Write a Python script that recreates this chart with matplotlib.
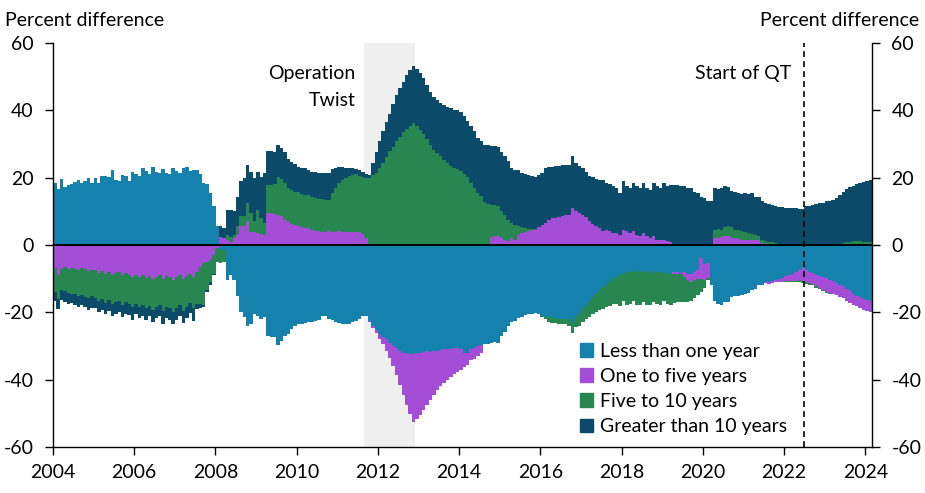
import numpy as np
import matplotlib
matplotlib.use("Agg")
import matplotlib.pyplot as plt
from matplotlib.patches import Patch

plt.rcParams['font.family'] = ['Lato', 'DejaVu Sans']
plt.rcParams['axes.unicode_minus'] = False

start_year = 2004  # first month: January 2004, monthly bars

lt1 = [
    18.4, 16.6, 19.5, 17.2, 17.8, 18.2, 18.8, 19.2, 18.3, 19.0, 19.8, 18.4,
    19.8, 18.5, 20.6, 20.5, 20.2, 22.3, 19.4, 19.0, 20.8, 20.4, 19.0, 21.8,
    21.0, 20.6, 22.9, 22.0, 21.2, 23.2, 21.7, 21.3, 22.6, 21.5, 21.2, 22.8,
    22.0, 21.5, 23.0, 23.2, 22.0, 22.4, 22.3, 21.0, 18.4, 18.0, 15.4, 11.5,
    5.5, -1.4, -1.5, -10.3, -9.0, -10.5, -15.0, -20.0, -21.5, -24.0, -23.5, -20.5,
    -21.0, -22.0, -21.5, -27.0, -27.2, -27.3, -29.8, -28.5, -27.0, -26.5, -25.0, -24.0,
    -23.6, -23.5, -23.2, -23.0, -22.8, -22.5, -22.2, -21.1, -21.2, -22.0, -22.3, -22.8,
    -23.2, -23.6, -23.6, -23.4, -23.0, -22.6, -22.0, -21.2, -21.2, -22.5, -24.0, -25.3,
    -26.3, -27.2, -28.0, -29.0, -30.0, -30.5, -31.4, -32.0, -32.0, -32.3, -32.5, -32.0,
    -32.0, -31.8, -31.5, -31.8, -31.4, -31.5, -31.3, -31.0, -31.0, -30.8, -30.6, -30.6,
    -31.0, -32.0, -32.0, -31.0, -30.6, -30.0, -29.8, -29.5, -29.3, -29.0, -28.8, -29.0,
    -27.0, -25.8, -24.2, -22.8, -22.6, -21.8, -21.3, -20.8, -20.6, -20.4, -20.3, -20.5,
    -21.0, -21.3, -21.5, -21.5, -21.6, -22.0, -22.0, -22.0, -22.0, -23.0, -21.5, -20.6,
    -19.0, -18.0, -17.0, -15.5, -14.5, -13.5, -12.5, -12.0, -11.0, -10.0, -9.5, -9.0,
    -8.5, -8.0, -8.0, -7.8, -8.0, -7.8, -8.0, -8.0, -7.8, -8.2, -8.0, -8.0,
    -8.2, -8.3, -8.5, -8.0, -8.0, -8.2, -8.0, -8.5, -8.5, -8.0, -7.5, -4.0,
    -5.5, -5.3, -12.0, -16.7, -17.5, -17.7, -17.0, -16.8, -15.5, -15.2, -15.0, -14.8,
    -14.5, -14.2, -13.5, -13.2, -12.0, -11.8, -11.0, -11.0, -10.8, -10.3, -10.0, -9.8,
    -9.3, -9.0, -8.5, -8.0, -7.4, -6.8, -7.5, -8.0, -8.3, -8.8, -9.3, -9.6,
    -9.9, -10.3, -10.8, -11.3, -11.8, -12.2, -13.0, -13.8, -14.5, -15.0, -15.4, -15.9,
    -16.2, -16.5,
]

y1_5 = [
    -6.8, -9.0, -7.0, -6.5, -7.2, -6.8, -7.0, -7.5, -6.8, -7.2, -7.8, -7.4,
    -7.5, -8.2, -7.8, -8.5, -7.9, -8.8, -8.2, -8.0, -9.0, -8.4, -8.8, -9.5,
    -8.8, -9.5, -9.0, -9.8, -9.2, -10.0, -9.4, -9.0, -10.2, -9.3, -9.6, -10.4,
    -9.5, -8.8, -10.0, -9.2, -8.6, -9.6, -8.0, -6.5, -5.3, -5.0, -4.5, -3.0,
    -1.0, 2.5, 2.0, 1.5, 1.0, 2.0, 3.0, 5.5, 5.5, 7.0, 4.0, 4.0,
    3.5, 3.2, 3.0, 9.5, 9.5, 9.2, 9.0, 8.5, 7.5, 6.8, 6.3, 5.8,
    5.5, 5.3, 5.0, 5.0, 4.5, 4.3, 4.2, 4.0, 4.0, 4.1, 4.0, 4.0,
    4.2, 4.0, 4.0, 4.0, 4.0, 3.9, 3.8, 3.2, 2.0, -0.3, -0.8, -0.7,
    -1.5, -2.3, -3.5, -4.5, -6.0, -8.0, -10.1, -12.5, -15.5, -18.0, -20.2, -19.8,
    -18.6, -17.2, -16.0, -14.2, -13.1, -11.7, -10.7, -10.0, -9.0, -8.4, -7.7, -7.2,
    -6.0, -4.3, -3.5, -3.3, -3.2, -3.0, -2.4, 0.0, 0.0, 2.4, 2.6, 2.6,
    2.1, 1.6, 1.1, 2.0, 1.6, 3.0, 3.5, 4.0, 4.2, 4.5, 4.6, 5.2,
    5.8, 6.5, 7.4, 8.0, 8.0, 8.2, 8.5, 8.8, 9.0, 11.0, 10.2, 9.6,
    9.0, 8.3, 7.0, 6.2, 5.7, 5.1, 4.1, 4.5, 4.1, 3.6, 3.6, 3.1,
    4.5, 4.1, 3.6, 4.1, 3.1, 2.6, 3.6, 2.6, 2.1, 2.6, 1.6, 1.6,
    1.6, 1.1, 1.0, -0.5, -0.5, -0.3, -1.5, -1.8, -2.5, -2.3, -2.5, -6.0,
    -4.8, -4.5, 0.0, 2.0, 2.0, 2.5, 2.6, 2.6, 2.0, 2.0, 1.8, 1.6,
    1.6, 1.5, 1.4, 1.6, 1.5, 0.6, -0.3, -0.5, -0.6, -0.8, -1.0, -1.2,
    -1.5, -1.8, -2.2, -2.6, -3.0, -4.0, -3.6, -3.4, -3.3, -3.5, -3.5, -3.8,
    -4.0, -4.0, -3.8, -3.6, -3.6, -3.5, -3.5, -3.4, -3.2, -3.2, -3.3, -3.3,
    -3.4, -3.4,
]

y5_10 = [
    -7.2, -7.0, -6.5, -7.3, -7.0, -7.8, -7.5, -7.5, -8.0, -8.2, -8.0, -7.8,
    -8.3, -8.3, -8.2, -8.7, -8.5, -8.8, -8.7, -8.5, -8.8, -8.6, -8.6, -9.0,
    -8.7, -8.8, -8.8, -9.0, -8.8, -9.2, -9.1, -8.9, -9.4, -9.2, -9.2, -9.4,
    -9.3, -9.0, -9.5, -9.2, -8.6, -9.2, -9.5, -11.0, -12.4, -8.5, -6.5, -5.5,
    -4.0, -4.0, -3.5, 1.5, 1.5, 1.0, 2.5, 3.0, 3.0, 5.4, 5.5, 3.0,
    7.0, 4.8, 3.5, 8.4, 8.4, 8.8, 11.3, 11.0, 11.0, 10.2, 9.9, 10.0,
    10.1, 9.9, 10.0, 9.8, 9.9, 9.7, 9.6, 9.6, 9.4, 9.4, 11.5, 12.8,
    14.3, 15.3, 16.0, 16.5, 16.8, 17.1, 16.7, 17.0, 17.8, 19.8, 20.8, 21.5,
    23.0, 24.5, 26.2, 27.8, 29.2, 30.8, 32.2, 33.5, 34.6, 35.4, 36.1, 35.3,
    34.3, 33.0, 31.4, 29.8, 28.3, 27.2, 26.3, 25.3, 24.4, 23.6, 23.0, 22.6,
    22.0, 21.2, 20.2, 18.5, 17.0, 15.4, 14.6, 12.8, 12.2, 9.6, 9.2, 8.9,
    8.1, 7.4, 6.4, 4.4, 4.4, 2.6, 1.8, 1.0, 0.5, 0.2, 0.1, 0.0,
    -0.5, -0.8, -1.5, -1.8, -1.7, -1.5, -1.6, -1.6, -2.0, -3.0, -3.0, -3.4,
    -4.0, -4.0, -4.5, -5.0, -5.5, -5.8, -6.5, -6.5, -7.0, -7.5, -8.0, -9.0,
    -8.0, -9.8, -9.5, -8.8, -9.8, -10.0, -8.8, -9.8, -10.0, -8.8, -9.6, -9.8,
    -8.5, -9.3, -9.2, -8.8, -8.5, -8.5, -7.5, -6.5, -5.5, -5.5, -5.0, -4.0,
    -2.5, -0.5, 0.0, 2.5, 2.8, 2.0, 2.6, 2.9, 3.3, 2.5, 2.7, 2.6,
    2.4, 2.0, 1.8, 1.4, 1.1, 1.0, 1.2, 1.0, 0.8, 0.5, 0.0, 0.0,
    -0.3, -0.3, -0.4, -0.4, -0.5, -0.5, -0.5, -0.5, -0.4, -0.4, -0.4, -0.3,
    -0.3, -0.2, 0.0, 0.0, 0.3, 0.6, 0.8, 1.0, 1.1, 1.2, 1.2, 1.0,
    0.9, 0.8,
]

gt10 = [
    -2.7, -3.0, -2.7, -3.2, -3.3, -2.7, -3.3, -3.5, -3.1, -3.0, -3.5, -3.4,
    -3.0, -3.3, -3.3, -3.4, -3.2, -3.4, -3.5, -3.3, -3.7, -3.4, -3.5, -3.7,
    -3.1, -3.5, -3.2, -3.6, -3.2, -3.8, -3.3, -3.2, -3.8, -3.1, -3.4, -3.7,
    -3.4, -3.2, -3.7, -3.4, -3.0, -3.8, -1.5, -1.2, -0.8, -0.5, -1.0, -0.5,
    0.0, 3.0, 3.0, 7.5, 8.0, 7.0, 8.9, 10.4, 11.5, 11.4, 12.3, 12.9,
    11.3, 12.3, 14.8, 9.9, 9.9, 9.6, 9.4, 9.3, 9.0, 8.5, 8.4, 8.2,
    7.7, 7.8, 7.8, 7.5, 7.4, 7.6, 7.6, 7.9, 8.1, 7.8, 7.1, 6.2,
    4.8, 3.9, 3.0, 2.5, 2.0, 1.5, 1.7, 1.6, 1.2, 1.0, 3.7, 6.0,
    8.0, 9.5, 10.3, 11.2, 12.8, 13.7, 14.3, 15.0, 15.9, 16.6, 17.0, 17.0,
    16.9, 16.5, 16.1, 15.7, 15.7, 15.8, 15.9, 16.2, 16.6, 17.0, 17.2, 17.4,
    17.6, 17.1, 16.6, 16.7, 16.8, 16.4, 16.2, 17.0, 17.4, 17.4, 17.5, 17.5,
    17.4, 17.5, 17.5, 16.6, 16.4, 16.7, 16.2, 16.0, 16.0, 15.7, 15.6, 15.6,
    15.5, 16.3, 15.9, 15.3, 15.5, 15.3, 15.3, 15.0, 14.8, 15.3, 14.3, 13.9,
    13.8, 13.5, 13.5, 14.1, 14.0, 14.2, 15.2, 13.9, 13.9, 13.8, 13.4, 12.4,
    14.4, 13.3, 13.3, 14.3, 14.3, 14.3, 14.8, 14.3, 14.3, 15.8, 15.8, 15.3,
    16.8, 16.3, 16.9, 17.9, 17.9, 17.6, 17.4, 17.0, 16.9, 15.8, 15.4, 14.4,
    14.0, 13.0, 13.0, 12.4, 11.8, 12.4, 12.2, 11.7, 10.6, 11.1, 10.9, 11.0,
    11.4, 11.5, 12.2, 11.4, 11.6, 11.4, 11.2, 11.2, 11.2, 11.1, 11.3, 11.2,
    11.0, 11.0, 11.0, 10.9, 10.8, 10.7, 11.5, 11.5, 12.0, 12.2, 12.4, 12.6,
    13.0, 13.2, 13.5, 14.0, 14.6, 15.0, 15.7, 16.2, 16.5, 16.8, 17.2, 17.7,
    18.1, 18.6,
]

series_names = ["Less than one year", "One to five years",
                "Five to 10 years", "Greater than 10 years"]
series_colors = ["#1482ac", "#a44dd6", "#288751", "#0b4a69"]

twist_start, twist_end = 2011 + 8 / 12, 2012 + 11 / 12
qt_start = 2022.5

yticks = [-60, -40, -20, 0, 20, 40, 60]
xticks = list(range(2004, 2025, 2))

series = [lt1, y1_5, y5_10, gt10]
n = len(lt1)
assert all(len(s) == n for s in series), [len(s) for s in series]

FS = 14

fig = plt.figure(figsize=(9.25, 4.93), dpi=100)
ax = fig.add_axes([53 / 925, 1 - 447 / 493, (872 - 53) / 925, (447 - 43) / 493])

x = start_year + np.arange(n) / 12
pos_bottom = np.zeros(n)
neg_bottom = np.zeros(n)
for vals, col, name in zip(series, series_colors, series_names):
    v = np.asarray(vals, dtype=float)
    bottom = np.where(v >= 0, pos_bottom, neg_bottom)
    ax.bar(x, v, width=1.06 / 12, bottom=bottom, align='edge', color=col,
           linewidth=0, zorder=2)
    pos_bottom += np.clip(v, 0, None)
    neg_bottom += np.clip(v, None, 0)

ax.axvspan(twist_start, twist_end, color='#efefef', zorder=0, linewidth=0)
ax.axvline(qt_start, color='black', linestyle=(0, (3.5, 2.5)), linewidth=1.2, zorder=4)
ax.axhline(0, color='black', linewidth=1.4, zorder=5)

ax.set_xlim(start_year, start_year + n / 12)
ax.set_ylim(-60, 60)
ax.set_yticks(yticks)
ax.set_yticklabels([str(t) for t in yticks])
ax.set_xticks(xticks)
ax.set_xticklabels([str(t) for t in xticks])
ax.tick_params(axis='y', which='both', left=True, right=True, labelleft=True,
               labelright=True, direction='out', length=6, width=1, labelsize=FS, pad=8)
ax.tick_params(axis='x', direction='out', length=6, width=1, labelsize=FS, pad=6)
ax.spines['top'].set_visible(False)
for s in ['left', 'right', 'bottom']:
    ax.spines[s].set_linewidth(1.0)

ax.text(2011.45, 51.0, "Operation", ha='right', va='center', fontsize=FS)
ax.text(2011.45, 42.8, "Twist", ha='right', va='center', fontsize=FS)
ax.text(2022.17, 51.0, "Start of QT", ha='right', va='center', fontsize=FS)

fig.text(5 / 925, 1 - 20 / 493, "Percent difference", ha='left', va='center', fontsize=FS)
fig.text(919 / 925, 1 - 20 / 493, "Percent difference", ha='right', va='center', fontsize=FS)

handles = [Patch(facecolor=c, edgecolor=c) for c in series_colors]
ax.legend(handles, series_names, loc='upper left', bbox_to_anchor=(0.643, 0.258),
          frameon=False, fontsize=FS, handlelength=0.7, handleheight=0.7,
          handletextpad=0.35, labelspacing=0.42, borderpad=0, borderaxespad=0)

fig.savefig("out.png", dpi=100)
